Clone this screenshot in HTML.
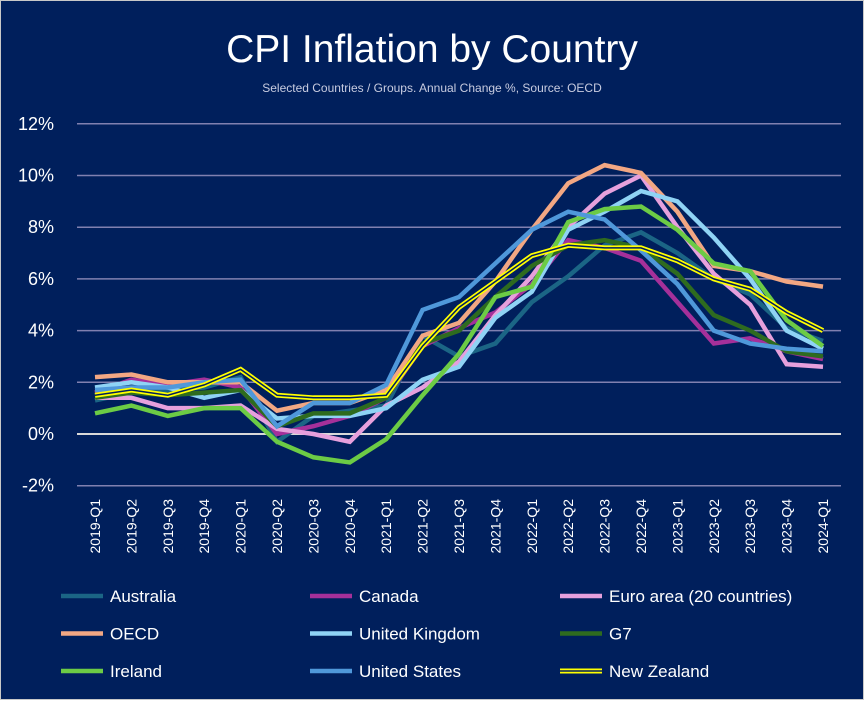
<!DOCTYPE html>
<html><head><meta charset="utf-8"><style>
body{margin:0;background:#fff}
#wrap{width:864px;height:700px;background:#001f5c;position:relative;box-sizing:border-box;border:1px solid #c8c8c8}
svg text{font-family:"Liberation Sans",Arial,sans-serif}
</style></head><body>
<div id="wrap">
<svg id="chart" width="862" height="698">
<text x="431" y="61" text-anchor="middle" fill="#fff" font-size="39">CPI Inflation by Country</text>
<text x="431" y="91" text-anchor="middle" fill="#c8cce0" font-size="12">Selected Countries / Groups. Annual Change %, Source: OECD</text>
<g id="grid"></g><g id="xlabels"></g><g id="series"></g><g id="legend"></g>
</svg></div>
<script>
const categories=["2019-Q1","2019-Q2","2019-Q3","2019-Q4","2020-Q1","2020-Q2","2020-Q3","2020-Q4","2021-Q1","2021-Q2","2021-Q3","2021-Q4","2022-Q1","2022-Q2","2022-Q3","2022-Q4","2023-Q1","2023-Q2","2023-Q3","2023-Q4","2024-Q1"];
const yTicks=[-2,0,2,4,6,8,10,12];
const seriesNames=["Australia","Canada","Euro area (20 countries)","OECD","United Kingdom","G7","Ireland","United States","New Zealand"];
const australia=[1.3,1.6,1.7,1.8,2.2,-0.3,0.7,0.9,1.1,3.8,3.0,3.5,5.1,6.1,7.3,7.8,7.0,6.0,5.4,4.1,3.6];
const canada=[1.6,2.1,1.9,2.1,1.8,0.0,0.3,0.7,1.4,3.4,4.1,4.7,5.8,7.5,7.2,6.7,5.1,3.5,3.7,3.2,2.9];
const euroArea=[1.4,1.4,1.0,1.0,1.1,0.2,0.0,-0.3,1.1,1.8,2.8,4.6,6.1,8.0,9.3,10.0,8.0,6.2,5.0,2.7,2.6];
const oecd=[2.2,2.3,2.0,2.0,2.0,0.9,1.2,1.2,1.7,3.8,4.3,5.9,7.9,9.7,10.4,10.1,8.6,6.5,6.3,5.9,5.7];
const uk=[1.8,2.0,1.8,1.4,1.7,0.6,0.7,0.7,1.0,2.1,2.6,4.5,5.5,7.9,8.6,9.4,9.0,7.6,6.0,4.0,3.3];
const g7=[1.4,1.6,1.5,1.6,1.7,0.3,0.8,0.8,1.4,3.5,4.0,5.3,6.5,7.3,7.5,7.2,6.2,4.6,4.0,3.2,3.0];
const ireland=[0.8,1.1,0.7,1.0,1.0,-0.3,-0.9,-1.1,-0.2,1.5,3.1,5.3,5.7,8.2,8.7,8.8,7.9,6.6,6.3,4.4,3.4];
const us=[1.7,1.8,1.8,2.0,2.1,0.3,1.2,1.2,1.9,4.8,5.3,6.6,7.9,8.6,8.3,7.1,5.8,4.0,3.5,3.3,3.2];
const nz=[1.5,1.7,1.5,1.9,2.5,1.5,1.4,1.4,1.5,3.4,4.9,5.9,6.9,7.3,7.2,7.2,6.7,6.0,5.6,4.7,4.0];
const allData=[australia,canada,euroArea,oecd,uk,g7,ireland,us,nz];
const colors=["#1b6585","#a5309a","#e6a0dc","#f2a783","#8fd3f5","#2e6b1f","#6ccb45","#4f98da","#ffff00"];
const NS="http://www.w3.org/2000/svg";
const x=i=>94+i*(728/(categories.length-1));
const y=v=>433-v*25.85;
function mk(tag,at,parent){const e=document.createElementNS(NS,tag);for(const k in at)e.setAttribute(k,at[k]);parent.appendChild(e);return e;}
const grid=document.getElementById('grid');
yTicks.forEach(t=>{
  const l=mk('line',{x1:76,x2:840,y1:y(t),y2:y(t),stroke:t===0?'#d9d9d9':'#8080b0','stroke-width':t===0?2:1.5},grid);
  
  
  const tx=mk('text',{x:53,y:y(t)+6,'text-anchor':'end',fill:'#fff','font-size':18},grid);
  tx.textContent=t+'%';
  
  
});
const xl=document.getElementById('xlabels');
categories.forEach((c,i)=>{
  const t=mk('text',{x:0,y:0,transform:`translate(${x(i)+5},498) rotate(-90)`,'text-anchor':'end',fill:'#fff','font-size':14},xl);
  t.textContent=c;
  
  
});
const sg=document.getElementById('series');
allData.forEach((d,s)=>{
  const pts=d.map((v,i)=>x(i)+','+y(v)).join(' ');
  const p=mk('polyline',{points:pts,fill:'none',stroke:colors[s],'stroke-width':s===8?5:4.5,'stroke-linejoin':'miter'},sg);
  
  
  if(s===8){const q=mk('polyline',{points:pts,fill:'none',stroke:'#001f5c','stroke-width':1.5},sg);
  
  }
});
const lg=document.getElementById('legend');
seriesNames.forEach((n,s)=>{
  const col=s%3,row=Math.floor(s/3);
  const lx=[60,309,559][col],ly=595+row*37.5;
  const g=mk('g',{},lg);
  
  
  mk('line',{x1:lx,x2:lx+42,y1:ly,y2:ly,stroke:colors[s],'stroke-width':s===8?5:4.5},g);
  if(s===8)mk('line',{x1:lx,x2:lx+42,y1:ly,y2:ly,stroke:'#001f5c','stroke-width':1.5},g);
  const t=mk('text',{x:lx+49,y:ly+6,fill:'#fff','font-size':17},g);
  t.textContent=n;
});
</script>
</body></html>
